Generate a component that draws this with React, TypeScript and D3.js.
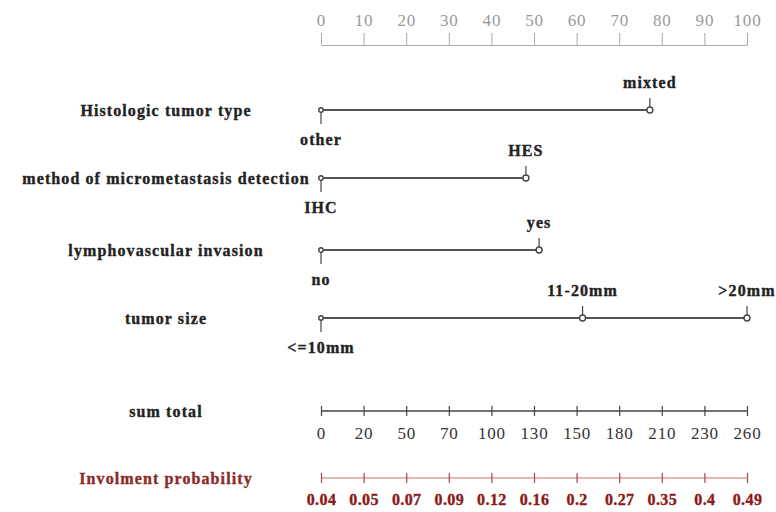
import React, { useRef, useEffect } from 'react';
import { select, scaleLinear, scalePoint, axisTop, axisBottom } from 'd3';

const pointTicks = [0, 10, 20, 30, 40, 50, 60, 70, 80, 90, 100];
const factorNames = ['Histologic tumor type', 'method of micrometastasis detection', 'lymphovascular invasion', 'tumor size'];
const factorLevels = [['other', 'mixted'], ['IHC', 'HES'], ['no', 'yes'], ['<=10mm', '11-20mm', '>20mm']];
const factorPoints = [[0, 77.2], [0, 48.1], [0, 51.2], [0, 61.4, 100]];
const totalLabels = ['0', '20', '50', '70', '100', '130', '150', '180', '210', '230', '260'];
const probLabels = ['0.04', '0.05', '0.07', '0.09', '0.12', '0.16', '0.2', '0.27', '0.35', '0.4', '0.49'];

const FONT = '"Liberation Serif", "Times New Roman", serif';

const App = () => {
    const svgRef = useRef<SVGSVGElement>(null);

    useEffect(() => {
        const svg = select(svgRef.current);
        svg.selectAll('*').remove();

        const x = scaleLinear().domain([0, 100]).range([321, 747]);
        const rowY = [110, 178, 250, 318];
        const labelX = 166;

        const boldText = (sel: any, color: string) => sel
            .style('font', `bold 16px ${FONT}`).style('letter-spacing', '1.1px')
            .attr('fill', color).attr('stroke', color).attr('stroke-width', 0.35);

        // points axis on top
        const top = svg.append('g').attr('transform', 'translate(0,45)')
            .call(axisTop(x).tickValues(pointTicks).tickSize(12).tickPadding(7).tickSizeOuter(0));
        top.select('.domain').attr('stroke', '#aaa');
        top.selectAll('.tick line').attr('stroke', '#aaa');
        top.selectAll('.tick text').attr('fill', '#999').style('font', `17px ${FONT}`).style('letter-spacing', '0.8px');

        // factor rows
        factorNames.forEach((name, i) => {
            const y = rowY[i];
            const pts = factorPoints[i];
            const g = svg.append('g');
            boldText(g.append('text').attr('x', labelX).attr('y', y).attr('dy', '0.35em')
                .attr('text-anchor', 'middle'), '#222').text(name);
            g.append('line').attr('x1', x(pts[0])).attr('x2', x(pts[pts.length - 1]))
                .attr('y1', y).attr('y2', y).attr('stroke', '#555').attr('stroke-width', 1.8);
            pts.forEach((p, j) => {
                const below = j === 0;
                g.append('line').attr('x1', x(p)).attr('x2', x(p))
                    .attr('y1', below ? y + 2 : y - 3).attr('y2', below ? y + 14 : y - 12)
                    .attr('stroke', '#444').attr('stroke-width', 1.2);
                g.append('circle').attr('cx', x(p)).attr('cy', y).attr('r', below ? 2.2 : 3)
                    .attr('fill', 'white').attr('stroke', '#444').attr('stroke-width', 1.4);
                boldText(g.append('text').attr('x', x(p)).attr('y', below ? y + 35 : y - 22)
                    .attr('text-anchor', 'middle'), '#222').text(factorLevels[i][j]);
            });
        });

        // sum total
        const tot = scalePoint().domain(totalLabels).range([321, 747]);
        boldText(svg.append('text').attr('x', labelX).attr('y', 411).attr('dy', '0.35em')
            .attr('text-anchor', 'middle'), '#222').text('sum total');
        const tg = svg.append('g').attr('transform', 'translate(0,411)')
            .call(axisBottom(tot).tickSize(5).tickPadding(11).tickSizeOuter(0));
        tg.select('.domain').attr('stroke', '#444').attr('stroke-width', 1.4).attr('d', 'M321,0H747');
        tg.selectAll('.tick line').attr('stroke', '#444').attr('y1', -5).attr('stroke-width', 1.2);
        tg.selectAll('.tick text').attr('fill', '#333').style('font', `17px ${FONT}`).style('letter-spacing', '0.8px');

        // probability
        const prob = scalePoint().domain(probLabels).range([321, 747]);
        boldText(svg.append('text').attr('x', labelX).attr('y', 478).attr('dy', '0.35em')
            .attr('text-anchor', 'middle'), '#8b2a2a').text('Involment probability');
        const pg = svg.append('g').attr('transform', 'translate(0,478)')
            .call(axisBottom(prob).tickSize(5).tickPadding(11).tickSizeOuter(0));
        pg.select('.domain').attr('stroke', '#e0a0a0').attr('stroke-width', 1.6).attr('d', 'M321,0H747');
        pg.selectAll('.tick line').attr('stroke', '#9a4a4a').attr('y1', -5).attr('stroke-width', 1.2);
        boldText(pg.selectAll('.tick text'), '#8b1a1a').style('font', `bold 16px ${FONT}`).style('letter-spacing', '0.4px');
    }, []);

    return (
        <svg ref={svgRef} width={776} height={512} style={{ position: 'absolute', left: 0, top: 0, background: 'white' }} />
    );
};

export default App;
